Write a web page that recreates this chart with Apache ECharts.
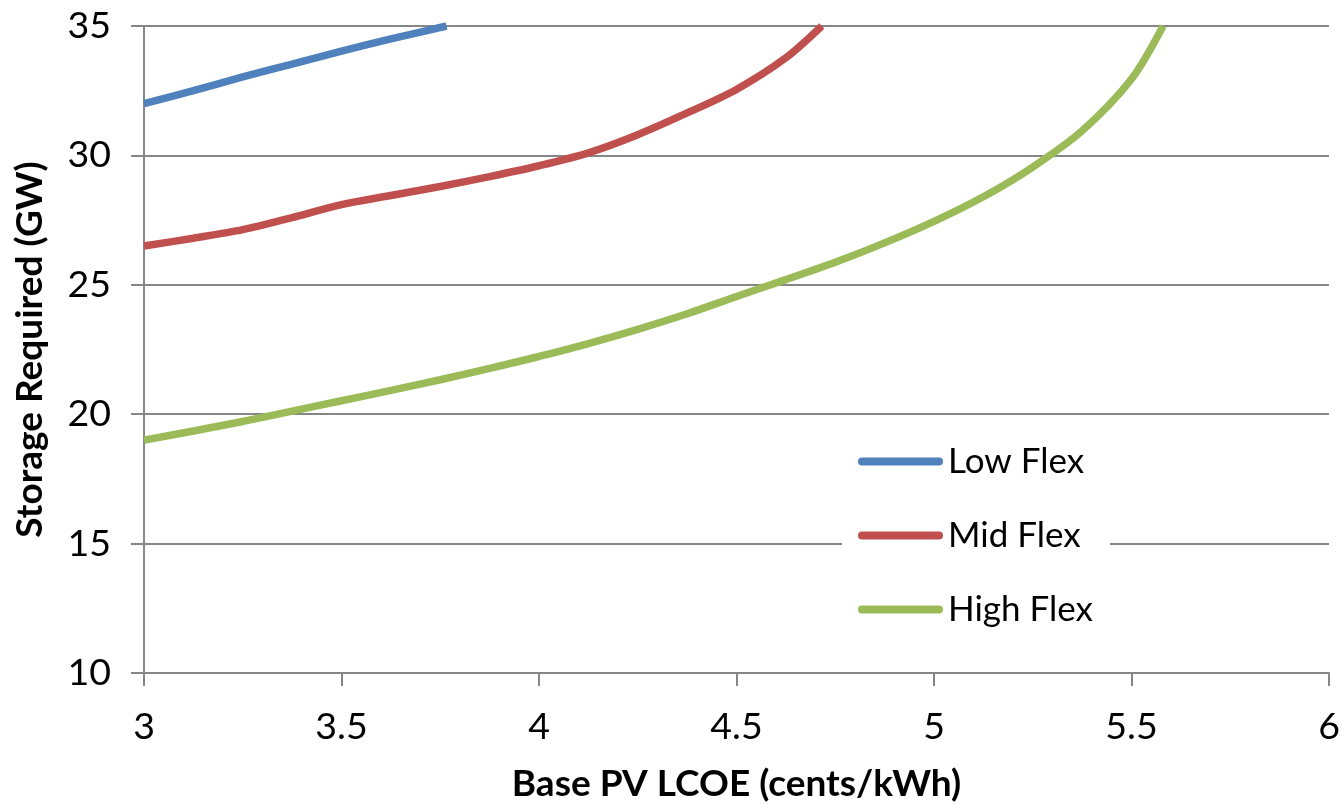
<!DOCTYPE html>
<html>
<head>
<meta charset="utf-8">
<script src="https://cdn.jsdelivr.net/npm/echarts@6/dist/echarts.min.js"></script>
<style>
html,body{margin:0;padding:0;background:#fff;}
#chart{width:1344px;height:805px;}
</style>
</head>
<body>
<div id="chart"></div>
<script>
// Data
var seriesNames = ['Low Flex', 'Mid Flex', 'High Flex'];
var lowFlexX  = [3.0, 3.125, 3.25, 3.375, 3.5, 3.625, 3.766];
var lowFlexY  = [32.0, 32.5, 33.03, 33.53, 34.03, 34.5, 35.0];
var midFlexX  = [3.0, 3.125, 3.25, 3.375, 3.5, 3.625, 3.75, 3.875, 4.0, 4.125, 4.25, 4.375, 4.5, 4.625, 4.716];
var midFlexY  = [26.5, 26.8, 27.13, 27.6, 28.1, 28.45, 28.8, 29.18, 29.6, 30.1, 30.8, 31.64, 32.55, 33.77, 35.0];
var highFlexX = [3.0, 3.125, 3.25, 3.375, 3.5, 3.625, 3.75, 3.875, 4.0, 4.125, 4.25, 4.375, 4.5, 4.625, 4.75, 4.875, 5.0, 5.125, 5.25, 5.375, 5.5, 5.58];
var highFlexY = [19.0, 19.35, 19.72, 20.12, 20.52, 20.92, 21.33, 21.77, 22.23, 22.73, 23.28, 23.88, 24.55, 25.2, 25.87, 26.62, 27.45, 28.4, 29.55, 30.95, 32.95, 35.0];
var xTicks = [3, 3.5, 4, 4.5, 5, 5.5, 6];
var yTicks = [10, 15, 20, 25, 30, 35];
var colors = ['#4F81BD', '#C0504D', '#9BBB59'];

function pairs(xs, ys) {
  return xs.map(function (x, i) { return [x, ys[i]]; });
}
var seriesData = [pairs(lowFlexX, lowFlexY), pairs(midFlexX, midFlexY), pairs(highFlexX, highFlexY)];

var axisGray = '#868686';
var font = 'Lato';
var pill = 'path://M4,0H81A4,4,0,0,1,81,8H4A4,4,0,0,1,4,0Z';

var chart = echarts.init(document.getElementById('chart'), null, {renderer: 'canvas'});
chart.setOption({
  animation: false,
  backgroundColor: '#ffffff',
  grid: {left: 144, right: 15, top: 26, bottom: 132, containLabel: false, outerBoundsMode: 'none'},
  legend: {
    orient: 'vertical',
    left: 842,
    top: 434,
    padding: [10, 17, 10, 16],
    backgroundColor: '#ffffff',
    itemWidth: 85,
    itemHeight: 8,
    itemGap: 39,
    icon: pill,
    itemStyle: {borderWidth: 0},
    textStyle: {fontFamily: font, fontSize: 35, color: '#000'},
    data: seriesNames.map(function (n) { return {name: n, icon: pill}; })
  },
  xAxis: {
    type: 'value',
    min: 3, max: 6, interval: 0.5,
    name: 'Base PV LCOE (cents/kWh)',
    nameLocation: 'middle',
    nameGap: 93,
    nameTextStyle: {fontFamily: font, fontWeight: 'bold', fontSize: 37, color: '#000', verticalAlign: 'top'},
    axisLine: {show: true, onZero: false, lineStyle: {color: axisGray, width: 2}},
    axisTick: {show: true, length: 13, lineStyle: {color: axisGray, width: 2}},
    axisLabel: {fontFamily: font, fontSize: 37.5, color: '#000', margin: 35,
      formatter: function (v) { return String(v); }},
    splitLine: {show: false}
  },
  yAxis: {
    type: 'value',
    min: 10, max: 35, interval: 5,
    name: 'Storage Required (GW)',
    nameLocation: 'middle',
    nameGap: 95,
    nameRotate: 90,
    nameTextStyle: {fontFamily: font, fontWeight: 'bold', fontSize: 37, color: '#000'},
    axisLine: {show: true, lineStyle: {color: axisGray, width: 2}},
    axisTick: {show: true, length: 13, lineStyle: {color: axisGray, width: 2}},
    axisLabel: {fontFamily: font, fontSize: 37.5, color: '#000', margin: 33},
    splitLine: {show: true, lineStyle: {color: axisGray, width: 2}}
  },
  series: seriesNames.map(function (name, i) {
    return {
      name: name,
      type: 'line',
      data: seriesData[i],
      smooth: 0.3,
      symbol: 'none',
      showSymbol: false,
      clip: true,
      color: colors[i],
      itemStyle: {color: colors[i]},
      lineStyle: {color: colors[i], width: 7.5, cap: 'butt'},
      z: 3
    };
  })
});
</script>
</body>
</html>
